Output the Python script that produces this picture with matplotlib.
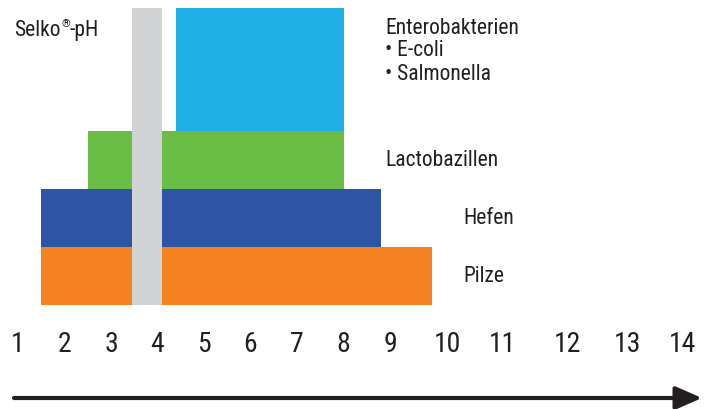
import matplotlib
matplotlib.use("Agg")
import matplotlib.pyplot as plt
from matplotlib import font_manager

# ---- data ----
organisms = ["Pilze", "Hefen", "Lactobazillen", "Enterobakterien"]
ph_min = [1.5, 1.5, 2.5, 4.4]
ph_max = [9.9, 8.8, 8.0, 8.0]
row_height = [1.0, 1.0, 1.0, 2.12]
row_base = [0.0, 1.0, 2.0, 3.0]
colors = ["#F58220", "#2E55A4", "#6ABD45", "#1FAFE4"]

selko_min = 3.45
selko_max = 4.1

ph_ticks = list(range(1, 15))
# visual horizontal placement of the tick labels (reference spacing widens after 9)
tick_label_x = [1, 2, 3, 4, 5, 6, 7, 8, 9, 10.23, 11.41, 12.81, 14.1, 15.3]

names = set(f.name for f in font_manager.fontManager.ttflist)
fam = "DejaVu Sans"
for cand in ["Liberation Sans Narrow", "Roboto Condensed", "Open Sans Condensed", "Lato"]:
    if cand in names:
        fam = cand
        break
plt.rcParams["font.family"] = [fam, "DejaVu Sans"]

fig = plt.figure(figsize=(7.08, 4.09), dpi=100)
ax = fig.add_axes([0, 0, 1, 1])
# 1 pH unit = 46.5 px, pH 1 at x=18 px ; 1 row = 58 px, base at y=305 px from top
ax.set_xlim(1 - 18 / 46.5, 1 + 690 / 46.5)
ax.set_ylim(-104 / 58, 305 / 58)
ax.axis("off")

for lo, hi, b, h, c in zip(ph_min, ph_max, row_base, row_height, colors):
    ax.bar(lo, h, width=hi - lo, bottom=b, align="edge", color=c, linewidth=0)

ax.bar(selko_min, sum(row_height), width=selko_max - selko_min, bottom=0,
       align="edge", color="#D1D3D4", linewidth=0, zorder=3)

txt_col = "#231F20"
fs = 15.5


def px(xp):
    return 1 + (xp - 18) / 46.5


def py(yp):
    return (305 - yp) / 58


t1 = ax.text(px(14), py(36), "Selko", fontsize=fs, color=txt_col, ha="left", va="baseline")
ax.annotate("®", xy=(1, 1), xycoords=t1, xytext=(0.5, 1), textcoords="offset points",
            fontsize=8, color=txt_col, ha="left", va="top")
ax.annotate("-pH", xy=(1, 0), xycoords=t1, xytext=(6.5, 0), textcoords="offset points",
            fontsize=fs, color=txt_col, ha="left", va="bottom")

ax.text(px(385), py(28), "Enterobakterien", fontsize=fs, color=txt_col, ha="left", va="center")
ax.text(px(385), py(51), "• E-coli", fontsize=fs, color=txt_col, ha="left", va="center")
ax.text(px(385), py(74), "• Salmonella", fontsize=fs, color=txt_col, ha="left", va="center")
ax.text(px(385), py(160), "Lactobazillen", fontsize=fs, color=txt_col, ha="left", va="center")
ax.text(px(463), py(218), "Hefen", fontsize=fs, color=txt_col, ha="left", va="center")
ax.text(px(463), py(276), "Pilze", fontsize=fs, color=txt_col, ha="left", va="center")

for t, x in zip(ph_ticks, tick_label_x):
    ax.text(x, py(344), str(t), fontsize=20, color=txt_col, ha="center", va="center")

ax.annotate("", xy=(px(702), py(398)), xytext=(px(14), py(398)),
            arrowprops=dict(arrowstyle="-|>,head_length=1.6,head_width=0.7",
                            lw=3, color="#231F20", shrinkA=0, shrinkB=0))

fig.savefig("out.png", dpi=100)
